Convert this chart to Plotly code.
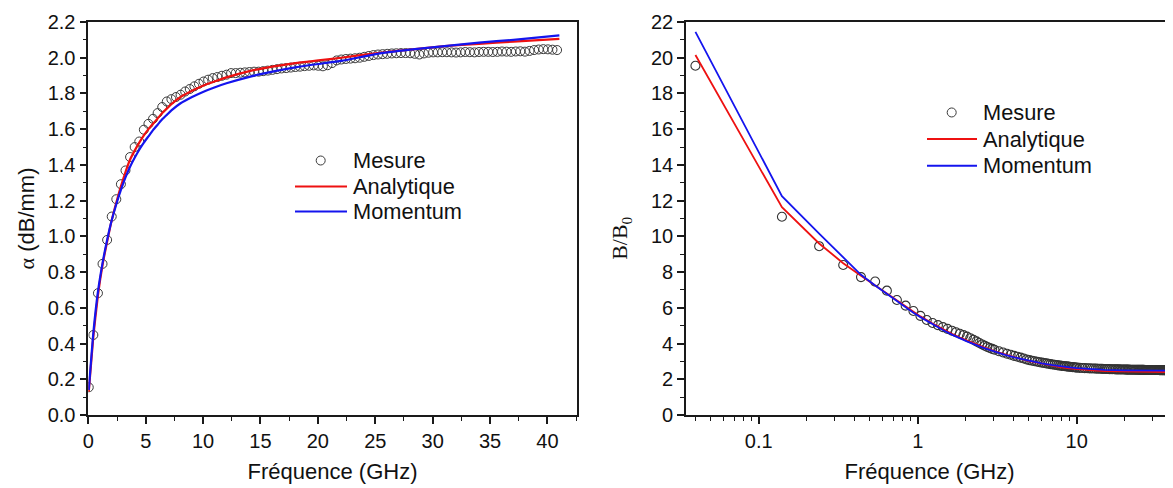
import numpy as np
import plotly.graph_objects as go

# ---------------- data ----------------
# Left panel: attenuation alpha (dB/mm) vs frequency (GHz)
alpha_freq = [round(0.04 + 0.4 * k, 2) for k in range(103)]
alpha_mesure = [
    0.155, 0.448, 0.682, 0.846, 0.980, 1.111, 1.208, 1.292, 1.369, 1.444,
    1.500, 1.531, 1.597, 1.630, 1.658, 1.690, 1.724, 1.755, 1.768, 1.780,
    1.793, 1.811, 1.825, 1.840, 1.854, 1.867, 1.877, 1.886, 1.892, 1.899,
    1.905, 1.914, 1.914, 1.916, 1.918, 1.920, 1.922, 1.922, 1.925, 1.928,
    1.932, 1.936, 1.940, 1.942, 1.945, 1.948, 1.950, 1.953, 1.955, 1.957,
    1.955, 1.952, 1.958, 1.970, 1.985, 1.990, 1.993, 1.995, 1.997, 2.000,
    2.005, 2.010, 2.015, 2.018, 2.020, 2.022, 2.024, 2.025, 2.026, 2.026,
    2.025, 2.022, 2.018, 2.024, 2.028, 2.030, 2.030, 2.031, 2.031, 2.030,
    2.029, 2.030, 2.032, 2.031, 2.030, 2.032, 2.033, 2.033, 2.032, 2.033,
    2.035, 2.034, 2.033, 2.035, 2.036, 2.034, 2.038, 2.043, 2.046, 2.048,
    2.047, 2.045, 2.043,
]
alpha_line_freq = [
    0.04, 0.44, 0.84, 1.24, 1.64, 2.04, 2.44, 2.84, 3.24, 3.64, 4.04, 4.44,
    4.84, 5.24, 5.64, 6.04, 6.44, 6.84, 7.24, 8.04, 9.04, 10.04, 11.04, 12.04,
    14.04, 16.04, 18.04, 20.04, 22.04, 25.04, 28.04, 31.04, 34.04, 37.04, 41.04,
]
alpha_analytique = [
    0.13, 0.44, 0.67, 0.84, 0.97, 1.09, 1.19, 1.28, 1.36, 1.43, 1.48, 1.525,
    1.565, 1.60, 1.63, 1.66, 1.69, 1.715, 1.74, 1.78, 1.815, 1.845, 1.868, 1.89,
    1.925, 1.95, 1.97, 1.985, 2.00, 2.025, 2.045, 2.065, 2.078, 2.09, 2.105,
]
alpha_momentum = [
    0.14, 0.46, 0.69, 0.85, 0.98, 1.09, 1.18, 1.26, 1.33, 1.39, 1.44, 1.485,
    1.525, 1.56, 1.595, 1.625, 1.655, 1.68, 1.705, 1.745, 1.78, 1.81, 1.835, 1.857,
    1.893, 1.922, 1.946, 1.965, 1.982, 2.02, 2.045, 2.065, 2.085, 2.10, 2.125,
]

# Right panel: B/B0 vs frequency (GHz), log axis
b_freq = ([round(0.04 + 0.1 * k, 2) for k in range(30)]
          + [round(3.04 + 0.2 * k, 2) for k in range(35)]
          + [round(10.04 + 0.4 * k, 2) for k in range(78)])
b_mesure = [
    19.55, 11.10, 9.45, 8.40, 7.72, 7.47, 6.96, 6.44, 6.12, 5.82,
    5.55, 5.32, 5.15, 5.03, 4.92, 4.82, 4.72, 4.63, 4.55, 4.47,
    4.39, 4.30, 4.21, 4.12, 4.03, 3.95, 3.88, 3.81, 3.75, 3.70,
    3.65, 3.57, 3.50, 3.43, 3.37, 3.31, 3.26, 3.21, 3.16, 3.11,
    3.07, 3.04, 3.01, 2.98, 2.95, 2.93, 2.91, 2.89, 2.87, 2.85,
    2.83, 2.81, 2.80, 2.78, 2.77, 2.75, 2.74, 2.73, 2.72, 2.71,
    2.70, 2.69, 2.68, 2.67, 2.66,
    2.650, 2.640, 2.632, 2.625, 2.618, 2.612, 2.606, 2.600, 2.595, 2.590,
    2.586, 2.582, 2.578, 2.574, 2.571, 2.568, 2.565, 2.562, 2.559, 2.556,
    2.554, 2.552, 2.550, 2.548, 2.546, 2.544, 2.542, 2.540, 2.539, 2.537,
    2.536, 2.534, 2.533, 2.532, 2.531, 2.530, 2.529, 2.528, 2.527, 2.526,
    2.525, 2.524, 2.523, 2.523, 2.522, 2.521, 2.521, 2.520, 2.520, 2.519,
    2.518, 2.518, 2.517, 2.517, 2.516, 2.516, 2.515, 2.515, 2.514, 2.514,
    2.514, 2.513, 2.513, 2.512, 2.512, 2.512, 2.511, 2.511, 2.511, 2.510,
    2.510, 2.510, 2.509, 2.509, 2.509, 2.508, 2.508, 2.508,
]
b_line_freq = [
    0.04, 0.14, 0.24, 0.34, 0.44, 0.54, 0.64, 0.74, 0.84, 0.94, 1.04, 1.24,
    1.44, 1.64, 1.84, 2.04, 2.54, 3.04, 3.54, 4.04, 5.04, 6.04, 7.04, 8.04,
    9.04, 10.04, 12.04, 15.04, 20.04, 25.04, 30.04, 35.04, 40.04,
]
b_analytique = [
    20.15, 11.63, 9.60, 8.50, 7.80, 7.25, 6.78, 6.40, 6.05, 5.77, 5.52, 5.12,
    4.80, 4.55, 4.34, 4.17, 3.83, 3.58, 3.39, 3.24, 3.02, 2.87, 2.76, 2.67,
    2.61, 2.57, 2.51, 2.46, 2.43, 2.42, 2.41, 2.41, 2.40,
]
b_momentum = [
    21.45, 12.25, 10.15, 8.85, 7.85, 7.25, 6.77, 6.37, 6.02, 5.73, 5.48, 5.08,
    4.76, 4.50, 4.29, 4.12, 3.79, 3.55, 3.37, 3.23, 3.03, 2.89, 2.79, 2.71,
    2.66, 2.62, 2.57, 2.53, 2.50, 2.49, 2.48, 2.48, 2.48,
]

legend_names = ["Mesure", "Analytique", "Momentum"]
x_ticks_left = [0, 5, 10, 15, 20, 25, 30, 35, 40]
x_ticks_right = [0.1, 1, 10]
x_ticktext_right = ["0.1", "1", "10"]
x_minor_right = [0.04, 0.05, 0.06, 0.07, 0.08, 0.09,
                 0.2, 0.3, 0.4, 0.5, 0.6, 0.7, 0.8, 0.9,
                 2, 3, 4, 5, 6, 7, 8, 9, 20, 30, 40]

# ---------------- geometry ----------------
# The page body adds an 8 px offset; positions below are in reference pixels.
OFF = 8
W, H = 1173 - OFF, 488 - OFF
TOP, BOT = 22.3 - OFF, 415 - OFF      # plot area top/bottom (figure pixels)
FONT = "Liberation Sans, Arial, sans-serif"
SERIF = "Liberation Serif, Times New Roman, serif"
RED = "#ee1111"
BLUE = "#1414ee"
MARK = "#3a3a3a"

def px_x(p):          # reference pixel -> paper x
    return (p - OFF) / W

def px_y(p):          # reference pixel -> paper y
    return (BOT - (p - OFF)) / (BOT - TOP)

fig = go.Figure()

mk = dict(symbol="circle-open", size=9, color=MARK, line=dict(width=1, color=MARK))
mk2 = dict(symbol="circle-open", size=9, color="#333333", line=dict(width=1.1, color="#333333"))

fig.add_trace(go.Scatter(x=alpha_freq, y=alpha_mesure, mode="markers", marker=mk,
                         name=legend_names[0], xaxis="x", yaxis="y", showlegend=False))
fig.add_trace(go.Scatter(x=alpha_line_freq, y=alpha_analytique, mode="lines",
                         line=dict(color=RED, width=2.2, shape="spline", smoothing=0.5),
                         name=legend_names[1], xaxis="x", yaxis="y", showlegend=False))
fig.add_trace(go.Scatter(x=alpha_line_freq, y=alpha_momentum, mode="lines",
                         line=dict(color=BLUE, width=2.2, shape="spline", smoothing=0.5),
                         name=legend_names[2], xaxis="x", yaxis="y", showlegend=False))

fig.add_trace(go.Scatter(x=b_freq, y=b_mesure, mode="markers", marker=mk2,
                         name=legend_names[0], xaxis="x2", yaxis="y2", showlegend=False))
fig.add_trace(go.Scatter(x=b_line_freq, y=b_analytique, mode="lines",
                         line=dict(color=RED, width=1.8),
                         name=legend_names[1], xaxis="x2", yaxis="y2", showlegend=False))
fig.add_trace(go.Scatter(x=b_line_freq, y=b_momentum, mode="lines",
                         line=dict(color=BLUE, width=1.8),
                         name=legend_names[2], xaxis="x2", yaxis="y2", showlegend=False))

axis_common = dict(
    showgrid=False, zeroline=False, showline=True, linecolor="#1a1a1a", linewidth=1.6,
    ticks="outside", ticklen=7, tickwidth=1.5, tickcolor="#1a1a1a",
    tickfont=dict(family=FONT, size=20, color="#111"), automargin=False,
)
minor_common = dict(ticks="outside", ticklen=4, tickwidth=1.3, tickcolor="#1a1a1a")
title_font = dict(family=FONT, size=22, color="#111")

right_axis_px = 686
log_lo = -1 - (758.7 - right_axis_px) / 159
log_hi = log_lo + (1173 - right_axis_px) / 159

fig.update_layout(
    width=W, height=H,
    margin=dict(l=0, r=0, t=TOP, b=H - BOT),
    paper_bgcolor="white", plot_bgcolor="white",
    showlegend=False,
    xaxis=dict(
        **axis_common, domain=[px_x(88.3), px_x(576.7)], anchor="y", range=[0, 42.55],
        tickmode="array", tickvals=x_ticks_left, mirror=True,
        minor=dict(**minor_common, dtick=2.5, tick0=0),
        title=dict(text="Fréquence (GHz)", font=title_font, standoff=13),
    ),
    yaxis=dict(
        **axis_common, domain=[0, 1], anchor="x", range=[0, 2.2],
        dtick=0.2, tick0=0, tickformat=".1f", mirror=True,
        minor=dict(**minor_common, dtick=0.1, tick0=0),
        title=dict(text="<span style=\"font-family:'Liberation Serif'\">α</span> (dB/mm)",
                   font=title_font, standoff=7),
    ),
    xaxis2=dict(
        **axis_common, type="log", domain=[px_x(right_axis_px), 1], anchor="y2",
        range=[log_lo, log_hi], tickmode="array", tickvals=x_ticks_right,
        ticktext=x_ticktext_right, mirror=True,
        minor=dict(**minor_common, tickmode="array", tickvals=x_minor_right),
        title=dict(text="Fréquence (GHz)", font=title_font, standoff=13),
    ),
    yaxis2=dict(
        **axis_common, domain=[0, 1], anchor="x2", range=[0, 22],
        dtick=2, tick0=0, mirror=False,
        minor=dict(**minor_common, dtick=1, tick0=0),
    ),
)

# right y-axis title (placed a little below the axis centre, as in the reference)
fig.add_annotation(x=px_x(621), y=px_y(239), xref="paper", yref="paper",
                   text="B/B<sub>0</sub>", textangle=-90, showarrow=False,
                   xanchor="center", yanchor="middle",
                   font=dict(family=SERIF, size=22, color="#111"))

# ---------------- legends (key shapes + text) ----------------
def add_legend(cx, line_x0, line_x1, text_x, rows):
    r = 4.5
    y0 = rows[0]
    fig.add_shape(type="circle", xref="paper", yref="paper",
                  x0=px_x(cx - r), x1=px_x(cx + r), y0=px_y(y0 + r), y1=px_y(y0 - r),
                  line=dict(color=MARK, width=1), fillcolor="rgba(0,0,0,0)")
    for yy, col in zip(rows[1:], [RED, BLUE]):
        fig.add_shape(type="line", xref="paper", yref="paper",
                      x0=px_x(line_x0), x1=px_x(line_x1), y0=px_y(yy), y1=px_y(yy),
                      line=dict(color=col, width=2))
    for yy, name in zip(rows, legend_names):
        fig.add_annotation(x=px_x(text_x), y=px_y(yy), xref="paper", yref="paper",
                           text=name, showarrow=False, xanchor="left", yanchor="middle",
                           font=dict(family=FONT, size=21.8, color="#111"))

add_legend(320.7, 295, 347, 350.5, [160.7, 186.7, 211.7])
add_legend(951.7, 927, 977, 981, [112.7, 139.3, 166])

fig.write_html("out.html")
